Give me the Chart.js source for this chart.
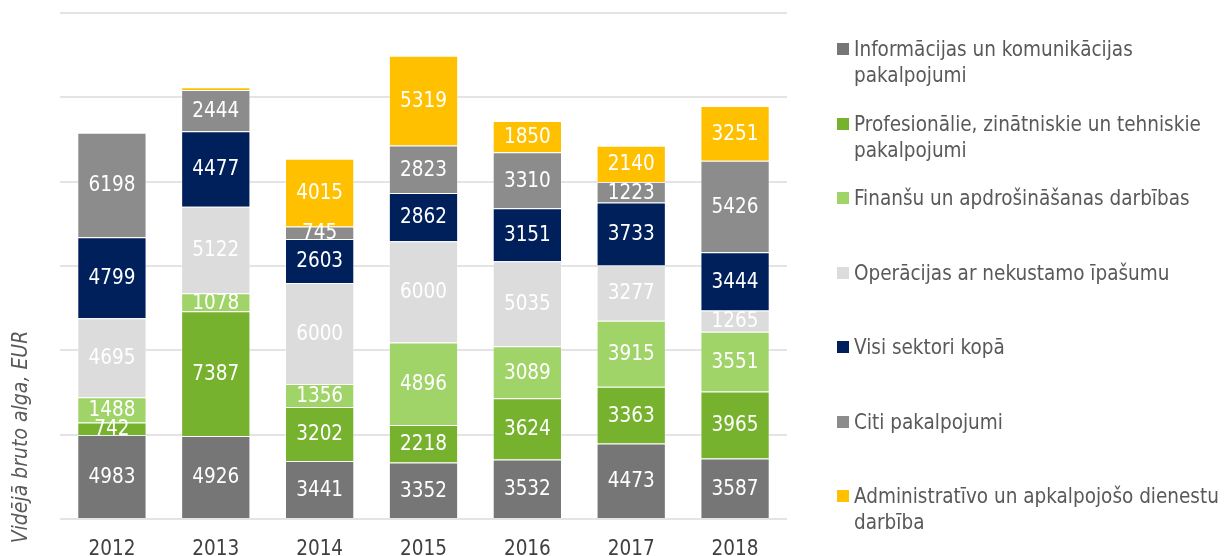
<!DOCTYPE html>
<html lang="lv">
<head>
<meta charset="utf-8">
<script src="https://cdn.jsdelivr.net/npm/chart.js@4.4.1/dist/chart.umd.min.js"></script>
<style>
  html, body { margin: 0; padding: 0; background: #fff; }
  #wrap { position: relative; width: 1230px; height: 556px; overflow: hidden; }
  #legend { position: absolute; left: 837px; top: 36px; width: 396px; }
  .item { height: 74.5px; display: flex; align-items: flex-start; }
  .box { width: 12px; height: 12px; margin-top: 7px; margin-right: 5px; flex: none; }
  .txt { font-family: "DejaVu Sans Condensed", "Noto Sans", sans-serif; font-size: 20.5px; line-height: 26px; color: #595959; }
</style>
</head>
<body>
<div id="wrap">
  <canvas id="chart" width="1230" height="556"></canvas>
  <div id="legend"></div>
</div>
<script>
var years = ['2012', '2013', '2014', '2015', '2016', '2017', '2018'];

var seriesNames = [
    'Informācijas un komunikācijas pakalpojumi',
    'Profesionālie, zinātniskie un tehniskie pakalpojumi',
    'Finanšu un apdrošināšanas darbības',
    'Operācijas ar nekustamo īpašumu',
    'Visi sektori kopā',
    'Citi pakalpojumi',
    'Administratīvo un apkalpojošo dienestu darbība'
];
var seriesColors = ['#767676', '#77b22f', '#a1d468', '#dcdcdc', '#00205b', '#8c8c8c', '#ffc000'];

var infoKom = [4983, 4926, 3441, 3352, 3532, 4473, 3587];
var profesionalie = [742, 7387, 3202, 2218, 3624, 3363, 3965];
var finansu = [1488, 1078, 1356, 4896, 3089, 3915, 3551];
var operacijas = [4695, 5122, 6000, 6000, 5035, 3277, 1265];
var visiSektori = [4799, 4477, 2603, 2862, 3151, 3733, 3444];
var citi = [6198, 2444, 745, 2823, 3310, 1223, 5426];
var administrativo = [0, 160, 4015, 5319, 1850, 2140, 3251];

var seriesValues = [infoKom, profesionalie, finansu, operacijas, visiSektori, citi, administrativo];

var fontFamily = '"DejaVu Sans Condensed", "Noto Sans", sans-serif';

// values written in the middle of each segment
var segmentLabels = {
    id: 'segmentLabels',
    afterDatasetsDraw: function (chart) {
        var ctx = chart.ctx;
        ctx.save();
        ctx.font = '20.5px ' + fontFamily;
        ctx.fillStyle = '#ffffff';
        ctx.textAlign = 'center';
        ctx.textBaseline = 'middle';
        chart.data.datasets.forEach(function (ds, i) {
            var meta = chart.getDatasetMeta(i);
            meta.data.forEach(function (bar, j) {
                var v = ds.data[j];
                if (!v || v < 500) return;
                ctx.fillText(String(v), bar.x, (bar.y + bar.base) / 2 + 1);
            });
        });
        ctx.restore();
    }
};

var yTitle = {
    id: 'yTitle',
    afterDraw: function (chart) {
        var ctx = chart.ctx;
        ctx.save();
        ctx.translate(22, 437);
        ctx.rotate(-Math.PI / 2);
        ctx.font = 'italic 21px ' + fontFamily;
        ctx.fillStyle = '#595959';
        ctx.textAlign = 'center';
        ctx.textBaseline = 'middle';
        ctx.fillText('Vidējā bruto alga, EUR', 0, 0);
        ctx.restore();
    }
};

var datasets = seriesNames.map(function (name, i) {
    return {
        label: name,
        data: seriesValues[i],
        backgroundColor: seriesColors[i],
        borderColor: 'rgba(255,255,255,0.35)',
        borderWidth: 1,
        categoryPercentage: 1,
        barPercentage: 0.667
    };
});

new Chart(document.getElementById('chart'), {
    type: 'bar',
    data: { labels: years, datasets: datasets },
    options: {
        responsive: false,
        animation: false,
        layout: { padding: { left: 60, right: 443, top: 13, bottom: 0 } },
        plugins: {
            legend: { display: false },
            tooltip: { enabled: false }
        },
        scales: {
            x: {
                stacked: true,
                grid: { display: false },
                border: { display: false },
                ticks: {
                    color: '#404040',
                    font: { family: fontFamily, size: 20.5 },
                    padding: 10
                },
                afterFit: function (scale) { scale.height = 37; }
            },
            y: {
                stacked: true,
                min: 0,
                max: 30000,
                ticks: { display: false, stepSize: 5000 },
                grid: { color: '#e4e4e4', lineWidth: 2, drawTicks: false },
                border: { display: false },
                afterFit: function (scale) { scale.width = 0; }
            }
        }
    },
    plugins: [segmentLabels, yTitle]
});

var legend = document.getElementById('legend');
seriesNames.forEach(function (name, i) {
    var item = document.createElement('div');
    item.className = 'item';
    var box = document.createElement('div');
    box.className = 'box';
    box.style.background = seriesColors[i];
    var txt = document.createElement('div');
    txt.className = 'txt';
    txt.textContent = name;
    item.appendChild(box);
    item.appendChild(txt);
    legend.appendChild(item);
});
</script>
</body>
</html>
